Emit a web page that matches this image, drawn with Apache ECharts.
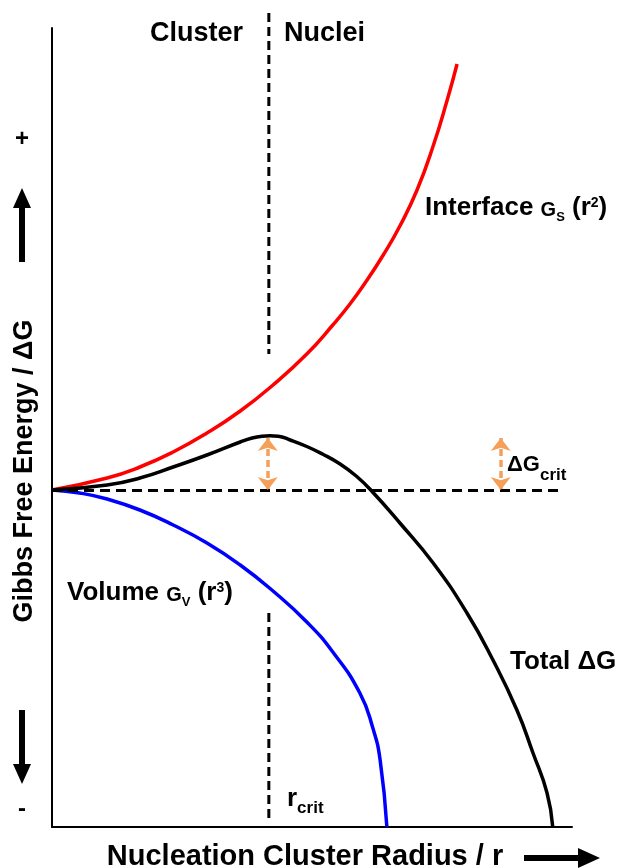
<!DOCTYPE html>
<html>
<head>
<meta charset="utf-8">
<script src="https://cdn.jsdelivr.net/npm/echarts@6/dist/echarts.min.js"></script>
<style>
  html, body { margin: 0; padding: 0; background: #fff; }
  #chart { width: 622px; height: 868px; }
</style>
</head>
<body>
<div id="chart"></div>
<script>
// Nucleation free energy: interface term, volume term and their sum vs cluster radius
const interfaceR = [0, 1.06, 1.69, 2.33, 2.98, 3.62, 4.25, 4.90, 5.40, 5.73, 6.06, 6.37, 6.69, 7.02, 7.33, 7.60, 7.79];
const interfaceG = [0, 1.2, 2.3, 3.8, 5.7, 7.9, 10.5, 13.6, 16.5, 18.6, 21.0, 23.5, 26.4, 30.0, 34.4, 39.0, 42.6];

const volumeR = [0, 0.53, 1.06, 1.69, 2.33, 2.98, 3.62, 4.25, 4.90, 5.40, 5.92, 6.17, 6.31, 6.44];
const volumeG = [0, -0.3, -0.9, -2.0, -3.5, -5.3, -7.5, -10.1, -13.2, -16.2, -20.3, -23.8, -27.0, -33.7];

const totalR = [0, 1.06, 1.69, 2.33, 2.98, 3.62, 3.85, 4.04, 4.19, 4.35, 4.58, 4.90, 5.20, 5.54, 5.85, 6.13, 6.69, 7.33, 7.98, 8.48, 8.94, 9.25, 9.52, 9.63];
const totalG = [0, 0.5, 1.2, 2.3, 3.5, 4.8, 5.2, 5.38, 5.42, 5.38, 5.0, 4.35, 3.6, 2.6, 1.4, 0, -3.3, -7.3, -12.3, -17.0, -22.0, -26.3, -30.3, -33.7];

// Critical radius, barrier height and guide-line extents
const rCrit = 4.17;
const dGcrit = 5.2;
const rBarrierNote = 8.63;
const rBaselineEnd = 9.83;
const dividerUpper = [47.7, 13.6];
const dividerLower = [-12.3, -33.0];

// Axis extents
const rMin = 0, rMax = 10;
const gMin = -33.7, gMax = 46.2;

const FONT = '"Liberation Sans", Arial, sans-serif';
const ORANGE = '#F5A05A';

function pairs(xs, ys) { return xs.map((x, i) => [x, ys[i]]); }

const chart = echarts.init(document.getElementById('chart'), null, { renderer: 'canvas' });

const arrowEnd = (coord) => ({ coord, symbol: 'arrow', symbolSize: [15, 13] });
const curve = (name, xs, ys, color) => ({
  name, type: 'line', data: pairs(xs, ys),
  smooth: 0.5, symbol: 'none', clip: false,
  lineStyle: { color, width: 3.5 }
});

chart.setOption({
  animation: false,
  backgroundColor: '#fff',
  grid: { left: 52, right: 50, top: 28, bottom: 41 },
  xAxis: {
    type: 'value', min: rMin, max: rMax,
    axisLine: { show: true, onZero: false, lineStyle: { color: '#000', width: 2 } },
    axisTick: { show: false }, axisLabel: { show: false }, splitLine: { show: false }
  },
  yAxis: {
    type: 'value', min: gMin, max: gMax,
    axisLine: { show: true, onZero: false, lineStyle: { color: '#000', width: 2 } },
    axisTick: { show: false }, axisLabel: { show: false }, splitLine: { show: false }
  },
  series: [
    curve('Interface', interfaceR, interfaceG, '#ff0000'),
    curve('Volume', volumeR, volumeG, '#0000ff'),
    Object.assign(curve('Total', totalR, totalG, '#000'), {
      markLine: {
        silent: true, symbol: ['none', 'none'], label: { show: false },
        emphasis: { disabled: true },
        data: [
          [
            { coord: [0, 0], lineStyle: { color: '#000', width: 3, type: [10, 6] } },
            { coord: [rBaselineEnd, 0] }
          ],
          [
            Object.assign(arrowEnd([rCrit - 0.02, dGcrit]), { lineStyle: { color: ORANGE, width: 3.5, type: [7, 4] } }),
            arrowEnd([rCrit - 0.02, 0])
          ],
          [
            Object.assign(arrowEnd([rBarrierNote, dGcrit]), { lineStyle: { color: ORANGE, width: 3.5, type: [7, 4] } }),
            arrowEnd([rBarrierNote, 0])
          ]
        ]
      }
    })
  ]
});

// Critical-radius divider, placed through the chart's own coordinate mapping
const px = (r, g) => chart.convertToPixel({ gridIndex: 0 }, [r, g]);
const dividerSeg = (a, b) => {
  const p1 = px(rCrit, a), p2 = px(rCrit, b);
  return {
    type: 'line', shape: { x1: p1[0], y1: p1[1], x2: p2[0], y2: p2[1] },
    style: { stroke: '#000', lineWidth: 3, lineDash: [9, 5] }
  };
};

const tok = (size, shift) => ({
  fontSize: size, fontWeight: 'bold', fontFamily: FONT, fill: '#000',
  verticalAlign: 'middle',
  padding: shift >= 0 ? [shift * 2, 0, 0, 0] : [0, 0, -shift * 2, 0]
});

const label = (x, y, text, rich) => ({
  type: 'text', x, y, silent: true,
  style: { text, align: 'left', verticalAlign: 'middle', rich, font: 'bold 26px ' + FONT, fill: '#000' }
});

const stdRich = {
  a: tok(26, 0), g: tok(20, 2), s: tok(13, 9), p: tok(14, -5)
};

const poly = (points) => ({ type: 'polygon', silent: true, shape: { points }, style: { fill: '#000' } });

chart.setOption({
  graphic: [
    dividerSeg(dividerUpper[0], dividerUpper[1]),
    dividerSeg(dividerLower[0], dividerLower[1]),

    label(150, 34, '{a|Cluster}', { a: tok(27, 0) }),
    label(284, 34, '{a|Nuclei}', { a: tok(27, 0) }),

    label(425, 208, '{a|Interface }{g|G}{s|S}{a| (r}{p|2}{a|)}', stdRich),
    label(67, 593, '{a|Volume }{g|G}{s|V}{a| (r}{p|3}{a|)}', stdRich),
    label(510, 662, '{a|Total ΔG}', { a: tok(26, 0) }),
    label(507, 465, '{a|ΔG}{s|crit}', { a: tok(22, 0), s: tok(17, 10) }),
    label(287, 799, '{a|r}{s|crit}', { a: tok(26, 0), s: tok(17, 9) }),

    {
      type: 'text', x: 305, y: 857, silent: true,
      style: { text: 'Nucleation Cluster Radius / r', align: 'center', verticalAlign: 'middle',
               font: 'bold 29px ' + FONT, fill: '#000' }
    },
    {
      type: 'text', x: 25, y: 471, rotation: Math.PI / 2, silent: true,
      style: { text: 'Gibbs Free Energy / ΔG', align: 'center', verticalAlign: 'middle',
               font: 'bold 27px ' + FONT, fill: '#000' }
    },
    {
      type: 'text', x: 22, y: 139, silent: true,
      style: { text: '+', align: 'center', verticalAlign: 'middle', font: 'bold 24px ' + FONT, fill: '#000' }
    },
    {
      type: 'text', x: 22, y: 809, silent: true,
      style: { text: '-', align: 'center', verticalAlign: 'middle', font: 'bold 24px ' + FONT, fill: '#000' }
    },

    // direction arrows beside the axes
    poly([[19, 262], [25, 262], [25, 208], [31, 208], [22, 188], [13, 208], [19, 208]]),
    poly([[19, 710], [25, 710], [25, 764], [31, 764], [22, 784], [13, 764], [19, 764]]),
    poly([[524, 855], [578, 855], [578, 848], [600, 858], [578, 868], [578, 861], [524, 861]])
  ]
});
</script>
</body>
</html>
